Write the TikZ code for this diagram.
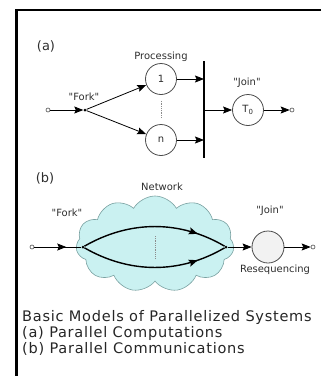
\documentclass[tikz,border=0pt]{standalone}
\usepackage{fontspec}
\setmainfont{DejaVu Sans}
\newfontfamily\captionfont[LetterSpace=5]{DejaVu Sans}
\usetikzlibrary{arrows.meta,shapes.symbols,calc,decorations.markings}

\definecolor{cloudfill}{RGB}{202,241,241}
\definecolor{cloudline}{RGB}{120,160,160}
\definecolor{labelgray}{RGB}{45,45,45}

\begin{document}
\begin{tikzpicture}[x=1bp,y=-1bp,
  lbl/.style={font=\fontsize{10}{12}\selectfont, text=labelgray, inner sep=0},
  partlbl/.style={font=\fontsize{13}{15}\selectfont, text=labelgray, inner sep=0},
  caption/.style={font=\captionfont\fontsize{14.6}{16}\selectfont, text=black!85, anchor=base west, inner sep=0},
  proc/.style={circle, draw=black!70, fill=white, minimum size=31bp, inner sep=0, line width=0.8bp,
    font=\fontsize{10}{12}\selectfont, text=labelgray},
  term/.style={circle, draw=black!70, fill=white, minimum size=4bp, inner sep=0, line width=0.6bp},
  forkpt/.style={circle, fill=black, minimum size=3bp, inner sep=0},
  arr/.style={-{Stealth[length=9bp,width=7bp,inset=1.5bp]}, line width=0.8bp},
  midarr/.style={postaction={decorate}, decoration={markings,
    mark=at position #1 with {\arrow{Stealth[length=9bp,width=7bp,inset=1.5bp]}}}},
  pathline/.style={line width=1.4bp}
]
\useasboundingbox (0,0) rectangle (331,376);

% frame
\draw[line width=2bp] (321,9.5) -- (16.5,9.5) -- (16.5,376);

% ---------- (a) parallel computations ----------
\node[partlbl] (alabel) at (46,46) {(a)};
\node[term] (ain) at (48,110) {};
\node[forkpt] (afork) at (85,110) {};
\node[lbl] (aforklbl) at (84,97) {\textquotedbl Fork\textquotedbl};
\node[proc] (p1) at (161,79) {1};
\node[proc] (pn) at (161,140) {n};
\node[lbl] (proclbl) at (161,57) {Processing};
\draw[densely dotted, black!45, line width=0.8bp] ($(p1.south)+(0,6)$) -- ($(pn.north)+(0,-6)$);

\coordinate (bartop) at (204,61);
\coordinate (barbot) at (204,158);
\draw[line width=2bp] (bartop) -- (barbot);

\draw[arr] (ain) -- (afork);
\draw[arr] (afork) -- (p1);
\draw[arr] (afork) -- (pn);
\draw[arr] (p1.east) -- (p1.east -| bartop);
\draw[arr] (pn.east) -- (pn.east -| bartop);

\node[proc] (t0) at (248,110) {T\textsubscript{0}};
\node[lbl] (joinlbl) at (247,83) {\textquotedbl Join\textquotedbl};
\node[term] (aout) at (292,110) {};
\draw[arr] (afork -| bartop) -- (t0);
\draw[arr] (t0) -- (aout);

% ---------- (b) parallel communications ----------
\node[partlbl] (blabel) at (45,178) {(b)};
\node[cloud, cloud puffs=11, cloud puff arc=120, cloud ignores aspect,
  minimum width=158bp, minimum height=96bp, inner sep=0,
  draw=cloudline, fill=cloudfill, line width=0.6bp] (net) at (155,244) {};
\node[lbl] (netlbl) at (162,187) {Network};
\node[lbl] (bforklbl) at (67,213) {\textquotedbl Fork\textquotedbl};
\node[lbl] (bjoinlbl) at (270,211) {\textquotedbl Join\textquotedbl};

\node[term] (bin) at (32,247) {};
\node[forkpt] (bfork) at (83,247) {};
\node[forkpt] (bjoin) at (226,247) {};
\draw[line width=0.8bp, midarr=0.68] (bin) -- (bfork);
\draw[pathline, midarr=0.8] (bfork) .. controls (130,220) and (180,220) .. (bjoin);
\draw[pathline, midarr=0.8] (bfork) .. controls (130,274) and (180,274) .. (bjoin);
\draw[densely dotted, black!45, line width=0.8bp] (155,236) -- (155,258);

\node[proc, fill=black!5, minimum size=32bp] (reseq) at (268,247) {};
\node[lbl] (reseqlbl) at (275,270) {Resequencing};
\node[term] (bout) at (313,247) {};
\draw[arr] (bjoin) -- (reseq);
\draw[arr] (reseq) -- (bout);

% ---------- caption ----------
\node[caption] (cap1) at (22,321) {Basic Models of Parallelized Systems};
\node[caption] (cap2) at (22,337) {(a) Parallel Computations};
\node[caption] (cap3) at (22,353) {(b) Parallel Communications};
\end{tikzpicture}
\end{document}
